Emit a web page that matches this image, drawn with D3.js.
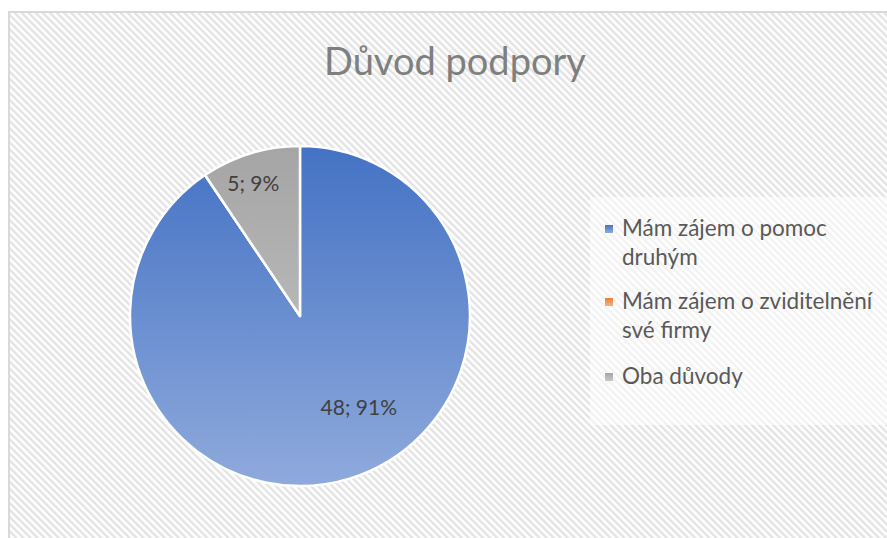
<!DOCTYPE html>
<html>
<head>
<meta charset="utf-8">
<script src="https://cdn.jsdelivr.net/npm/d3@7"></script>
<style>
html, body { margin: 0; padding: 0; background: #ffffff; }
svg { display: block; }
</style>
</head>
<body>
<svg id="chart" width="887" height="538"></svg>
<script>
const title = "Důvod podpory";
const categories = ["Mám zájem o pomoc druhým", "Mám zájem o zviditelnění své firmy", "Oba důvody"];
const legendLines = [["Mám zájem o pomoc", "druhým"], ["Mám zájem o zviditelnění", "své firmy"], ["Oba důvody"]];
const values = [48, 0, 5];
const percentLabels = ["91%", "0%", "9%"];
const colorsTop = ["#4472C4", "#ED7D31", "#A5A5A5"];
const colorsBottom = ["#8FAADC", "#F4B183", "#C9C9C9"];

const svg = d3.select("#chart");
const W = 887, H = 538;
const font = "Lato, 'Open Sans', sans-serif";

const defs = svg.append("defs");
const pat = defs.append("pattern")
  .attr("id", "hatch").attr("patternUnits", "userSpaceOnUse")
  .attr("width", 5).attr("height", 5)
  .attr("patternTransform", "rotate(-45)");
pat.append("rect").attr("width", 5).attr("height", 5).attr("fill", "#ffffff");
pat.append("rect").attr("width", 2.4).attr("height", 5).attr("fill", "#e3e3e3");

// chart area
svg.append("rect").attr("x", 9).attr("y", 12).attr("width", W).attr("height", H)
  .attr("fill", "url(#hatch)").attr("stroke", "#d9d9d9").attr("stroke-width", 2);

// title
svg.append("text").attr("x", 455).attr("y", 75).attr("text-anchor", "middle")
  .attr("font-family", font).attr("font-size", 38).attr("fill", "#7f7f7f").text(title);

// pie
const cx = 300, cy = 316, R = 170;
categories.forEach((c, i) => {
  const g = defs.append("linearGradient").attr("id", "grad" + i)
    .attr("gradientUnits", "userSpaceOnUse")
    .attr("x1", 0).attr("y1", -R).attr("x2", 0).attr("y2", R);
  g.append("stop").attr("offset", "0%").attr("stop-color", colorsTop[i]);
  g.append("stop").attr("offset", "100%").attr("stop-color", colorsBottom[i]);
  const lg = defs.append("linearGradient").attr("id", "lgrad" + i)
    .attr("x1", 0).attr("y1", 0).attr("x2", 0).attr("y2", 1);
  lg.append("stop").attr("offset", "0%").attr("stop-color", colorsTop[i]);
  lg.append("stop").attr("offset", "100%").attr("stop-color", colorsBottom[i]);
});

const pie = d3.pie().sort(null).value(d => d)(values);
const arc = d3.arc().innerRadius(0).outerRadius(R);
const gPie = svg.append("g").attr("transform", `translate(${cx},${cy})`);
gPie.selectAll("path").data(pie).join("path")
  .attr("d", arc)
  .attr("fill", (d, i) => `url(#grad${i})`)
  .attr("stroke", "#ffffff").attr("stroke-width", 2.5).attr("stroke-linejoin", "round");

// label placement (layout): radius fraction and extra offset per slice
const labelRadius = [0.6, 0.6, 0.82];
const labelShift = [[29, -6], [0, 0], [-6, 1]];
gPie.selectAll("text").data(pie.filter(d => d.data > 0)).join("text")
  .attr("transform", d => {
    const r = R * labelRadius[d.index];
    const p = d3.arc().innerRadius(r).outerRadius(r).centroid(d);
    const s = labelShift[d.index];
    return `translate(${p[0] + s[0]},${p[1] + s[1]})`;
  })
  .attr("text-anchor", "middle").attr("dy", "0.35em")
  .attr("font-family", font).attr("font-size", 21).attr("fill", "#404040")
  .text(d => `${d.data}; ${percentLabels[d.index]}`);

// legend
svg.append("rect").attr("x", 590).attr("y", 197).attr("width", 297).attr("height", 228)
  .attr("fill", "#ffffff").attr("opacity", 0.55);
const legendY = [235, 308, 383];
const lg = svg.append("g");
categories.forEach((c, i) => {
  lg.append("rect").attr("x", 605).attr("y", legendY[i] - 10).attr("width", 8).attr("height", 8)
    .attr("fill", `url(#lgrad${i})`);
  const t = lg.append("text").attr("x", 622).attr("y", legendY[i] + 1)
    .attr("font-family", font).attr("font-size", 22.5).attr("fill", "#595959");
  legendLines[i].forEach((ln, j) => {
    t.append("tspan").attr("x", 622).attr("dy", j === 0 ? 0 : 29).text(ln);
  });
});
</script>
</body>
</html>
